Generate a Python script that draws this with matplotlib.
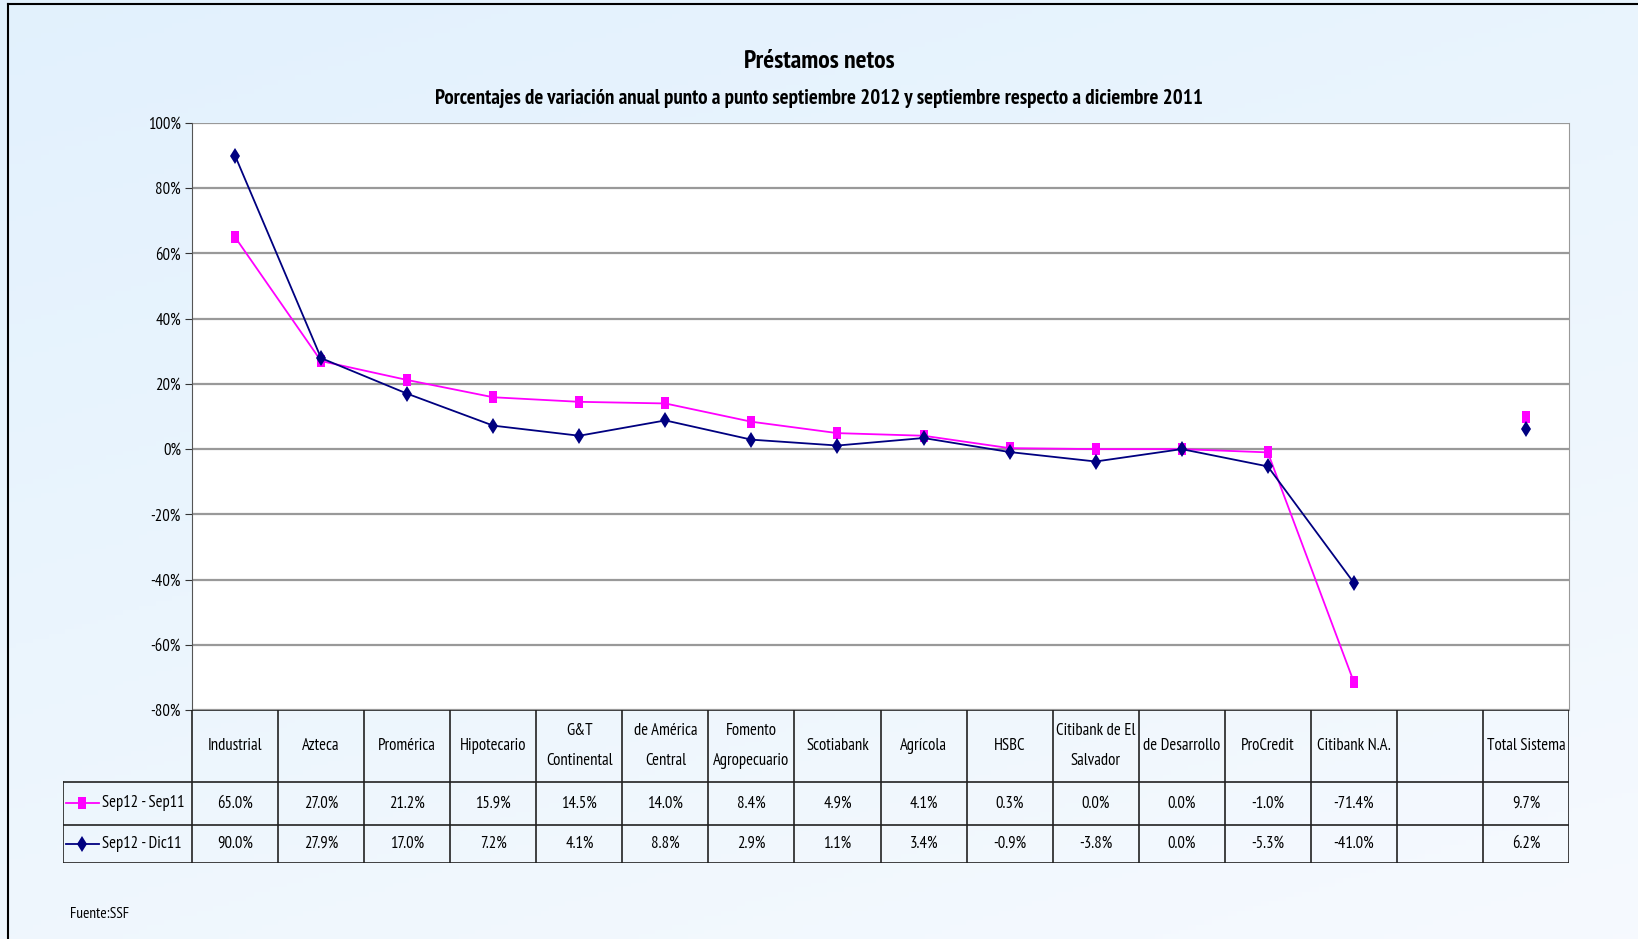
import numpy as np
import matplotlib
matplotlib.use('Agg')
import matplotlib.pyplot as plt
from matplotlib import font_manager

# narrow font, like the original Arial Narrow, if one is available
installed = {f.name for f in font_manager.fontManager.ttflist}
narrow = None
for cand in ['Liberation Sans Narrow', 'Arial Narrow', 'PT Sans Narrow', 'Pragati Narrow',
             'Roboto Condensed', 'Archivo Narrow']:
    if cand in installed:
        narrow = cand
        break
plt.rcParams['font.family'] = ([narrow] if narrow else []) + ['Liberation Sans', 'DejaVu Sans']

bancos = ['Industrial', 'Azteca', 'Promérica', 'Hipotecario', 'G&T\nContinental',
          'de América\nCentral', 'Fomento\nAgropecuario', 'Scotiabank', 'Agrícola', 'HSBC',
          'Citibank de El\nSalvador', 'de Desarrollo', 'ProCredit', 'Citibank N.A.', '',
          'Total Sistema']
sep12_sep11 = [65.0, 27.0, 21.2, 15.9, 14.5, 14.0, 8.4, 4.9, 4.1, 0.3, 0.0, 0.0, -1.0, -71.4, np.nan, 9.7]
sep12_dic11 = [90.0, 27.9, 17.0, 7.2, 4.1, 8.8, 2.9, 1.1, 3.4, -0.9, -3.8, 0.0, -5.3, -41.0, np.nan, 6.2]
series_names = ['Sep12 - Sep11', 'Sep12 - Dic11']
yticks = [-80, -60, -40, -20, 0, 20, 40, 60, 80, 100]

pink = '#FF00FF'
navy = '#000080'
fs = 12 if narrow else 10
sq = [(-0.38, -0.5), (0.38, -0.5), (0.38, 0.5), (-0.38, 0.5), (-0.38, -0.5)]
ms_sq, ms_d = 8, 8

W, H = 1638, 939
fig = plt.figure(figsize=(W / 100, H / 100), dpi=100)

# background gradient
bg = fig.add_axes([0, 0, 1, 1], zorder=-10)
gx, gy = np.meshgrid(np.linspace(0, 1, 200), np.linspace(0, 1, 200))
g = 0.35 * gx + 0.65 * gy
c0 = np.array([0.886, 0.945, 0.992])
c1 = np.array([0.965, 0.980, 0.997])
img = c0[None, None, :] * (1 - g[..., None]) + c1[None, None, :] * g[..., None]
bg.imshow(img, aspect='auto', extent=[0, 1, 0, 1], origin='upper')
bg.set_xlim(0, 1)
bg.set_ylim(0, 1)
bg.axis('off')
bg.plot([8 / W, 8 / W], [0, 1 - 4 / H], color='black', lw=1.5)
bg.plot([8 / W, 1], [1 - 4 / H, 1 - 4 / H], color='black', lw=1.5)


def px(x0, y0, x1, y1):
    return [x0 / W, 1 - y1 / H, (x1 - x0) / W, (y1 - y0) / H]


ax = fig.add_axes(px(192, 123, 1569, 710))
ax.set_facecolor('white')
x = np.arange(len(bancos))
ax.plot(x, sep12_sep11, color=pink, lw=1.3, marker=sq, ms=ms_sq, mec=pink, mfc=pink, mew=0, zorder=3)
ax.plot(x, sep12_dic11, color=navy, lw=1.3, marker='d', ms=ms_d, mec=navy, mfc=navy, mew=0, zorder=4)
ax.set_xlim(-0.5, len(bancos) - 0.5)
ax.set_ylim(-80, 100)
ax.set_yticks(yticks)
ax.set_yticklabels([f'{v}%' for v in yticks], fontsize=fs)
ax.set_xticks([])
ax.grid(axis='y', color='#999999', lw=1.6)
ax.set_axisbelow(True)
ax.spines['top'].set_visible(False)
ax.spines['left'].set_color('#555555')
ax.spines['right'].set_color('#999999')
ax.spines['bottom'].set_visible(False)
ax.tick_params(axis='y', length=5, color='#333333', pad=3)

# data table under the plot
n = len(bancos)
tab = fig.add_axes(px(63, 710, 1569, 863))
tab.set_xlim(-2.0, n - 0.5)
tab.set_ylim(863, 710)
tab.axis('off')
y_head, y_r1, y_r2, y_end = 710, 782, 825, 863
lc = '#222222'
tab.plot([-0.5, n - 0.5], [y_head, y_head], color=lc, lw=1.2)
tab.plot([-2.0, n - 0.5], [y_r1, y_r1], color=lc, lw=1.2)
tab.plot([-2.0, n - 0.5], [y_r2, y_r2], color=lc, lw=1.2)
tab.plot([-2.0, n - 0.5], [y_end, y_end], color=lc, lw=1.2)
tab.plot([-2.0, -2.0], [y_r1, y_end], color=lc, lw=1.2)
for i in range(n + 1):
    tab.plot([i - 0.5, i - 0.5], [y_head, y_end], color=lc, lw=1.2)
for i, name in enumerate(bancos):
    tab.text(i, (y_head + y_r1) / 2, name, ha='center', va='center', fontsize=fs, linespacing=2.15)
    for vals, (ya, yb) in [(sep12_sep11, (y_r1, y_r2)), (sep12_dic11, (y_r2, y_end))]:
        if not np.isnan(vals[i]):
            tab.text(i, (ya + yb) / 2, f'{vals[i]:.1f}%', ha='center', va='center', fontsize=fs)
for (ya, yb), col, mk, ms, nm in [((y_r1, y_r2), pink, sq, ms_sq, series_names[0]),
                                  ((y_r2, y_end), navy, 'd', ms_d, series_names[1])]:
    ym = (ya + yb) / 2
    tab.plot([-1.97, -1.58], [ym, ym], color=col, lw=1.3)
    tab.plot([-1.775], [ym], marker=mk, color=col, ms=ms, mew=0)
    tab.text(-1.55, ym, nm, ha='left', va='center', fontsize=fs)

fig.text(0.5, 1 - 62 / H, 'Préstamos netos', ha='center', va='center',
         fontsize=18.5 if narrow else 15, fontweight='bold')
fig.text(0.5, 1 - 99 / H, 'Porcentajes de variación anual punto a punto septiembre 2012 y septiembre respecto a diciembre 2011',
         ha='center', va='center', fontsize=15 if narrow else 12, fontweight='bold')
fig.text(70 / W, 1 - 914 / H, 'Fuente:SSF', ha='left', va='center', fontsize=11 if narrow else 9.5)

fig.savefig('out.png', dpi=100)
